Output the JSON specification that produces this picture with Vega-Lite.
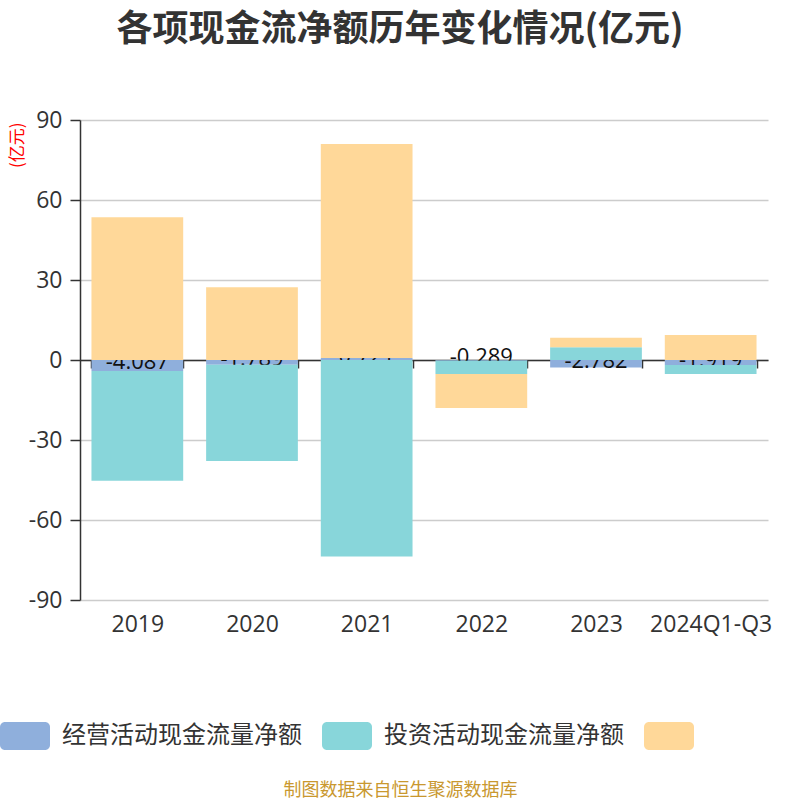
{
  "$schema": "https://vega.github.io/schema/vega-lite/v6.json",
  "width": 688,
  "height": 480,
  "autosize": {"type": "none"},
  "padding": {"left": 80, "top": 120, "right": 32, "bottom": 200},
  "background": "#ffffff",
  "config": {
    "font": "'Open Sans', 'Noto Sans CJK SC', sans-serif",
    "view": {"stroke": null}
  },
  "title": {
    "text": "各项现金流净额历年变化情况(亿元)",
    "font": "'Noto Sans CJK SC', sans-serif",
    "fontSize": 36,
    "fontWeight": "bold",
    "color": "#333333",
    "anchor": "middle",
    "dx": -24,
    "offset": 60
  },
  "data": {
    "values": [
      {"year": "2019", "type": "经营活动现金流量净额", "value": -4.087},
      {"year": "2019", "type": "投资活动现金流量净额", "value": -41.2},
      {"year": "2019", "type": "筹资活动现金流量净额", "value": 53.5},
      {"year": "2020", "type": "经营活动现金流量净额", "value": -1.789},
      {"year": "2020", "type": "投资活动现金流量净额", "value": -36.1},
      {"year": "2020", "type": "筹资活动现金流量净额", "value": 27.3},
      {"year": "2021", "type": "经营活动现金流量净额", "value": 0.721},
      {"year": "2021", "type": "投资活动现金流量净额", "value": -73.7},
      {"year": "2021", "type": "筹资活动现金流量净额", "value": 80.3},
      {"year": "2022", "type": "经营活动现金流量净额", "value": -0.289},
      {"year": "2022", "type": "投资活动现金流量净额", "value": -4.96},
      {"year": "2022", "type": "筹资活动现金流量净额", "value": -12.75},
      {"year": "2023", "type": "经营活动现金流量净额", "value": -2.782},
      {"year": "2023", "type": "投资活动现金流量净额", "value": 4.8},
      {"year": "2023", "type": "筹资活动现金流量净额", "value": 3.5},
      {"year": "2024Q1-Q3", "type": "经营活动现金流量净额", "value": -1.919},
      {"year": "2024Q1-Q3", "type": "投资活动现金流量净额", "value": -3.33},
      {"year": "2024Q1-Q3", "type": "筹资活动现金流量净额", "value": 9.4}
    ]
  },
  "transform": [
    {"stack": "value", "groupby": ["year"], "offset": "zero", "as": ["y0", "y1"]}
  ],
  "encoding": {
    "x": {
      "field": "year",
      "type": "nominal",
      "sort": null,
      "scale": {"paddingInner": 0.2, "paddingOuter": 0.1},
      "axis": {
        "orient": "bottom",
        "offset": -240,
        "domainColor": "#333333",
        "domainWidth": 1.5,
        "tickColor": "#333333",
        "tickWidth": 1.5,
        "tickSize": 8,
        "tickBand": "extent",
        "labelPadding": 245,
        "labelFontSize": 23,
        "labelColor": "#333333",
        "labelAngle": 0,
        "grid": false,
        "title": "制图数据来自恒生聚源数据库",
        "titleFont": "'Noto Sans CJK SC', sans-serif",
        "titleFontSize": 18,
        "titleFontWeight": "normal",
        "titleColor": "#C9982F",
        "titleX": 320,
        "titleY": 430,
        "titleAnchor": "middle",
        "titleBaseline": "middle"
      }
    }
  },
  "layer": [
    {
      "transform": [{"filter": "datum.type === '经营活动现金流量净额'"}],
      "mark": {"type": "bar"},
      "encoding": {
        "y": {
          "field": "y0",
          "type": "quantitative",
          "scale": {"domain": [-90, 90], "nice": false},
          "axis": {
            "values": [-90, -60, -30, 0, 30, 60, 90],
            "labelExpr": "replace(datum.label, '−', '-')",
            "domainColor": "#333333",
            "domainWidth": 1.5,
            "tickColor": "#333333",
            "tickWidth": 1.5,
            "tickSize": 10,
            "labelPadding": 8,
            "labelFontSize": 23,
            "labelColor": "#333333",
            "gridColor": "#cccccc",
            "gridWidth": 1.5,
            "title": "(亿元)",
            "titleFont": "'Noto Sans CJK SC', sans-serif",
            "titleColor": "#ff0000",
            "titleFontSize": 17,
            "titleFontWeight": "normal",
            "titleAngle": -90,
            "titleX": -63,
            "titleY": 2,
            "titleAlign": "right",
            "titleBaseline": "middle"
          }
        },
        "y2": {"field": "y1"},
        "color": {
          "field": "type",
          "type": "nominal",
          "scale": {
            "domain": ["经营活动现金流量净额", "投资活动现金流量净额", "筹资活动现金流量净额"],
            "range": ["#8FAFDC", "#88D6DA", "#FFD899"]
          },
          "legend": {
            "orient": "none",
            "legendX": -80,
            "legendY": 591,
            "direction": "horizontal",
            "title": null,
            "symbolType": "M-0.8,-0.56 L0.8,-0.56 A0.2,0.2 0 0 1 1,-0.36 L1,0.36 A0.2,0.2 0 0 1 0.8,0.56 L-0.8,0.56 A0.2,0.2 0 0 1 -1,0.36 L-1,-0.36 A0.2,0.2 0 0 1 -0.8,-0.56 Z",
            "symbolSize": 2500,
            "symbolStrokeWidth": 0,
            "symbolOpacity": 1,
            "labelFont": "'Noto Sans CJK SC', sans-serif",
            "labelFontSize": 24,
            "labelColor": "#333333",
            "labelOffset": 12,
            "labelLimit": 400,
            "columnPadding": 20,
            "labelExpr": "datum.label === '筹资活动现金流量净额' ? '' : datum.label"
          }
        }
      }
    },
    {
      "transform": [
        {"filter": "datum.type === '经营活动现金流量净额'"},
        {"calculate": "(datum.y0 + datum.y1) / 2", "as": "mid"},
        {"calculate": "replace(format(datum.value, '.3f'), '−', '-')", "as": "lbl"}
      ],
      "mark": {"type": "text", "fontSize": 22, "color": "#111111", "baseline": "middle", "align": "center", "dy": -3},
      "encoding": {
        "y": {"field": "mid", "type": "quantitative"},
        "text": {"field": "lbl", "type": "nominal"}
      }
    },
    {
      "transform": [{"filter": "datum.type !== '经营活动现金流量净额'"}],
      "mark": {"type": "bar"},
      "encoding": {
        "y": {"field": "y0", "type": "quantitative"},
        "y2": {"field": "y1"},
        "color": {"field": "type", "type": "nominal"}
      }
    }
  ]
}
